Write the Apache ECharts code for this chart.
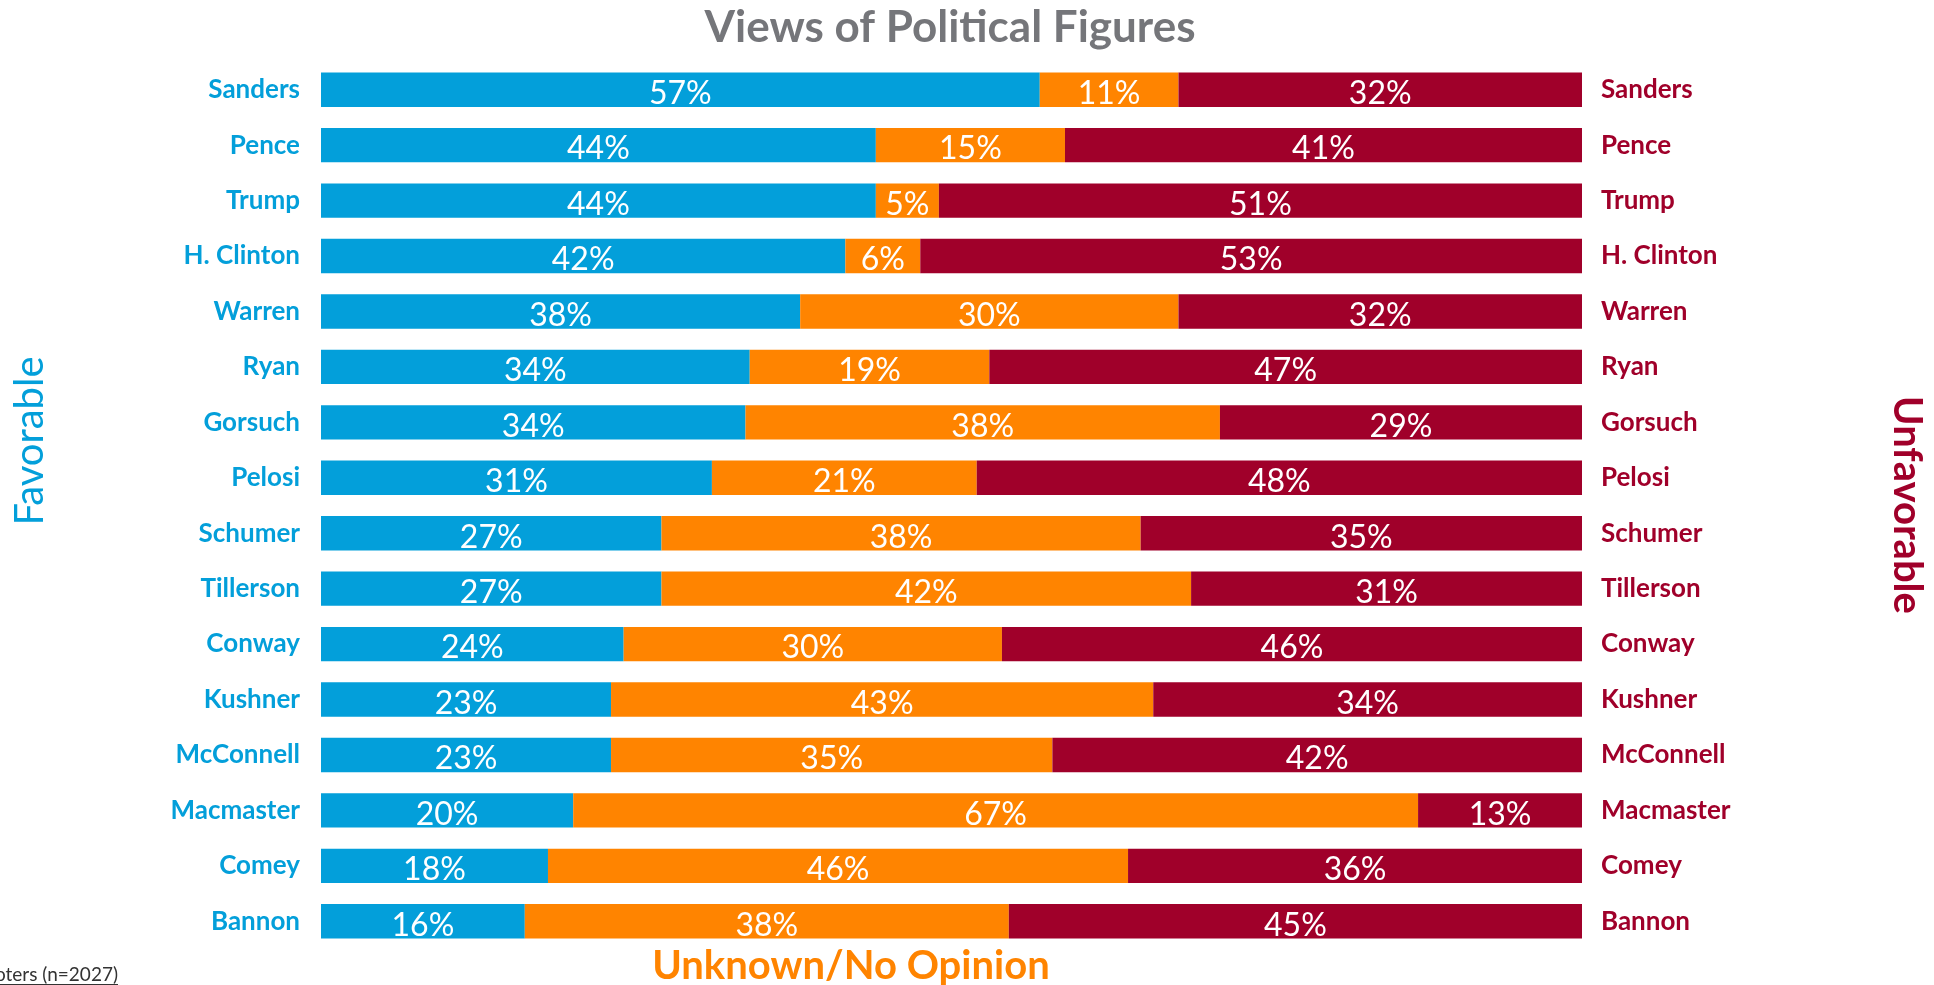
<!DOCTYPE html>
<html>
<head>
<meta charset="utf-8">
<script src="https://cdn.jsdelivr.net/npm/echarts@6/dist/echarts.min.js"></script>
<style>
  html, body { margin: 0; padding: 0; background: #fff; }
  #container { width: 1934px; height: 985px; }
</style>
</head>
<body>
<div id="container"></div>
<script>
const container = document.getElementById('container');
const chartIns = echarts.init(container);

const names = ['Sanders', 'Pence', 'Trump', 'H. Clinton', 'Warren', 'Ryan', 'Gorsuch', 'Pelosi',
  'Schumer', 'Tillerson', 'Conway', 'Kushner', 'McConnell', 'Macmaster', 'Comey', 'Bannon'];
const favorable = [57, 44, 44, 42, 38, 34, 34, 31, 27, 27, 24, 23, 23, 20, 18, 16];
const unknown = [11, 15, 5, 6, 30, 19, 38, 21, 38, 42, 30, 43, 35, 67, 46, 38];
const unfavorable = [32, 41, 51, 53, 32, 47, 29, 48, 35, 31, 46, 34, 42, 13, 36, 45];

const BLUE = '#039fda';
const ORANGE = '#ff8400';
const RED = '#a0002a';
const FONT = 'Lato';

// each row is drawn as 100% stacked (rows sum to 99-101)
const totals = names.map((n, i) => favorable[i] + unknown[i] + unfavorable[i]);
const toData = arr => arr.map((v, i) => ({ value: v / totals[i] * 100, raw: v }));

const makeSeries = (name, arr, color) => ({
  name: name,
  type: 'bar',
  stack: 'all',
  yAxisIndex: 0,
  barCategoryGap: '38%',
  itemStyle: { color: color },
  label: {
    show: true,
    position: 'inside',
    color: '#fff',
    fontFamily: FONT,
    fontSize: 32,
    offset: [0, 4],
    formatter: p => p.data.raw + '%'
  },
  data: toData(arr)
});

const option = {
  animation: false,
  grid: { left: 321, right: 352, top: 62, bottom: 36 },
  xAxis: { type: 'value', min: 0, max: 100, show: false },
  yAxis: [
    {
      type: 'category', inverse: true, data: names, position: 'left',
      axisLine: { show: false }, axisTick: { show: false },
      axisLabel: { color: BLUE, fontFamily: FONT, fontWeight: 'bold', fontSize: 26, margin: 21,
        padding: [10, 0, 0, 0] }
    },
    {
      type: 'category', inverse: true, data: names, position: 'right',
      axisLine: { show: false }, axisTick: { show: false },
      axisLabel: { color: RED, fontFamily: FONT, fontWeight: 'bold', fontSize: 26, margin: 19,
        padding: [0, 0, 7, 0] }
    }
  ],
  series: [
    makeSeries('Favorable', favorable, BLUE),
    makeSeries('Unknown/No Opinion', unknown, ORANGE),
    makeSeries('Unfavorable', unfavorable, RED)
  ],
  graphic: [
    {
      type: 'text', x: 950, y: 28,
      style: { text: 'Views of Political Figures', fill: '#75767a', font: 'bold 44px Lato',
        textAlign: 'center', textVerticalAlign: 'middle' }
    },
    {
      type: 'text', x: 30, y: 441, rotation: Math.PI / 2,
      style: { text: 'Favorable', fill: BLUE, font: '40px Lato',
        textAlign: 'center', textVerticalAlign: 'middle' }
    },
    {
      type: 'text', x: 1907, y: 505, rotation: -Math.PI / 2,
      style: { text: 'Unfavorable', fill: RED, font: 'bold 40px Lato',
        textAlign: 'center', textVerticalAlign: 'middle' }
    },
    {
      type: 'text', x: 851, y: 966,
      style: { text: 'Unknown/No Opinion', fill: ORANGE, font: 'bold 40px Lato',
        textAlign: 'center', textVerticalAlign: 'middle' }
    },
    {
      type: 'text', x: 118, y: 975,
      style: { text: 'Registered Voters (n=2027)', fill: '#333', font: '19px Lato',
        textAlign: 'right', textVerticalAlign: 'middle' }
    },
    {
      type: 'line', shape: { x1: 0, y1: 984.5, x2: 118, y2: 984.5 },
      style: { stroke: '#333', lineWidth: 1 }
    }
  ]
};

chartIns.setOption(option);
</script>
</body>
</html>
